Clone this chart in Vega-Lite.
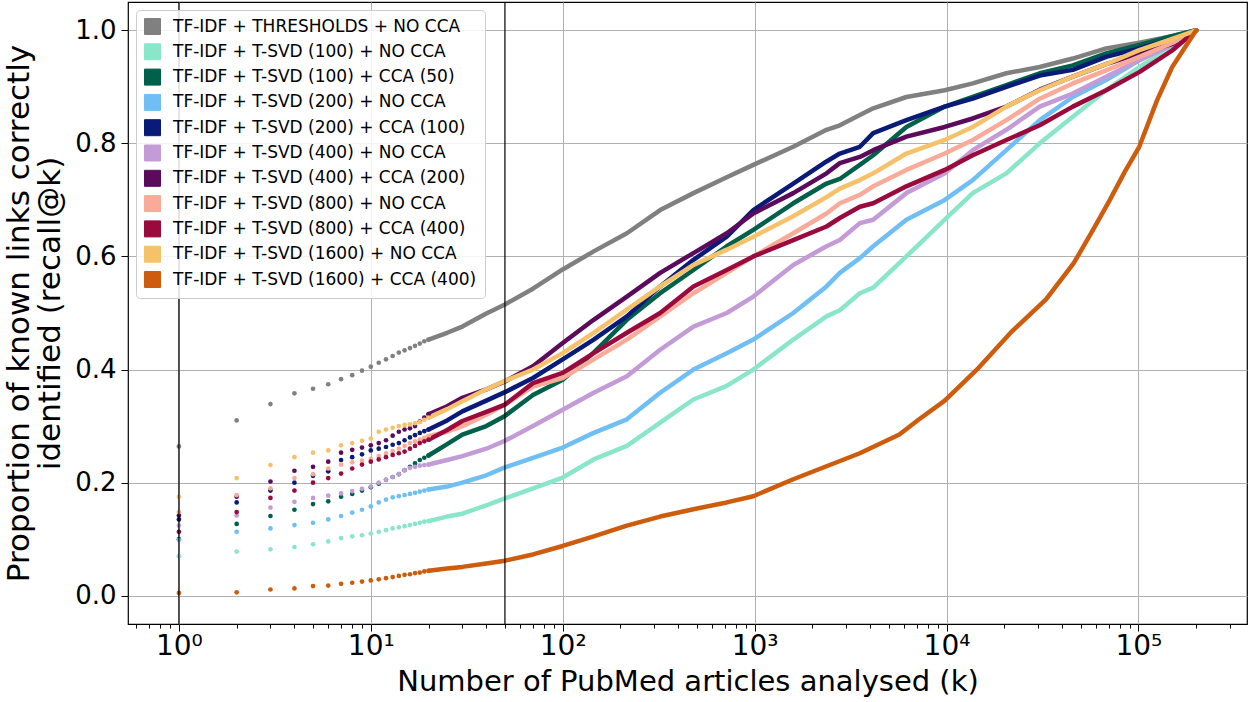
{
  "$schema": "https://vega.github.io/schema/vega-lite/v6.json",
  "autosize": {"type": "none"},
  "padding": {"left": 128, "top": 2, "right": 3, "bottom": 78},
  "width": 1119,
  "height": 622,
  "background": "white",
  "config": {
    "view": {"stroke": "black", "strokeWidth": 1.2},
    "axis": {
      "domain": false, "grid": true, "gridColor": "#b0b0b0", "gridWidth": 1,
      "tickColor": "black", "tickWidth": 1, "labelColor": "black", "titleColor": "black",
      "labelFont": "DejaVu Sans", "titleFont": "DejaVu Sans", "titleFontWeight": "normal",
      "labelFontSize": 26
    },
    "legend": {
      "title": null, "orient": "none", "legendX": 8, "legendY": 8,
      "fillColor": "rgba(255,255,255,0.85)", "strokeColor": "#cccccc", "cornerRadius": 4, "padding": 8,
      "symbolType": "square", "symbolSize": 256, "symbolStrokeColor": "black", "symbolStrokeWidth": 1, "symbolOpacity": 1,
      "labelFont": "DejaVu Sans", "labelFontSize": 17, "labelColor": "black", "labelLimit": 0, "labelOffset": 12,
      "rowPadding": 4.3
    }
  },
  "datasets": {
    "names": [
      {"c": "A", "s": "TF-IDF + THRESHOLDS + NO CCA"},
      {"c": "B", "s": "TF-IDF + T-SVD (100) + NO CCA"},
      {"c": "C", "s": "TF-IDF + T-SVD (100) + CCA (50)"},
      {"c": "D", "s": "TF-IDF + T-SVD (200) + NO CCA"},
      {"c": "E", "s": "TF-IDF + T-SVD (200) + CCA (100)"},
      {"c": "F", "s": "TF-IDF + T-SVD (400) + NO CCA"},
      {"c": "G", "s": "TF-IDF + T-SVD (400) + CCA (200)"},
      {"c": "H", "s": "TF-IDF + T-SVD (800) + NO CCA"},
      {"c": "I", "s": "TF-IDF + T-SVD (800) + CCA (400)"},
      {"c": "J", "s": "TF-IDF + T-SVD (1600) + NO CCA"},
      {"c": "K", "s": "TF-IDF + T-SVD (1600) + CCA (400)"}
    ],
    "vlines": [{"k": 1}, {"k": 50}],
    "curves": [
      {"c":"A","k":1,"r":0.264},{"c":"A","k":2,"r":0.310},{"c":"A","k":3,"r":0.339},{"c":"A","k":4,"r":0.358},{"c":"A","k":5,"r":0.366},{"c":"A","k":6,"r":0.374},{"c":"A","k":7,"r":0.383},{"c":"A","k":8,"r":0.390},{"c":"A","k":9,"r":0.398},{"c":"A","k":10,"r":0.405},{"c":"A","k":11,"r":0.412},{"c":"A","k":12,"r":0.418},{"c":"A","k":13,"r":0.424},{"c":"A","k":14,"r":0.430},{"c":"A","k":15,"r":0.434},{"c":"A","k":16,"r":0.438},{"c":"A","k":17,"r":0.442},{"c":"A","k":18,"r":0.446},{"c":"A","k":19,"r":0.450},
      {"c":"A","k":20,"r":0.453},{"c":"A","k":25,"r":0.465},{"c":"A","k":30,"r":0.476},{"c":"A","k":40,"r":0.499},{"c":"A","k":50,"r":0.515},{"c":"A","k":70,"r":0.543},{"c":"A","k":100,"r":0.577},{"c":"A","k":145,"r":0.609},{"c":"A","k":216,"r":0.641},{"c":"A","k":322,"r":0.682},{"c":"A","k":480,"r":0.712},{"c":"A","k":716,"r":0.740},{"c":"A","k":985,"r":0.762},{"c":"A","k":1590,"r":0.794},{"c":"A","k":2370,"r":0.824},{"c":"A","k":2780,"r":0.832},{"c":"A","k":3535,"r":0.850},{"c":"A","k":4150,"r":0.862},{"c":"A","k":6180,"r":0.882},{"c":"A","k":9790,"r":0.894},{"c":"A","k":13700,"r":0.906},{"c":"A","k":20500,"r":0.924},{"c":"A","k":30600,"r":0.935},{"c":"A","k":45500,"r":0.950},{"c":"A","k":67900,"r":0.968},{"c":"A","k":101000,"r":0.978},{"c":"A","k":151000,"r":0.990},{"c":"A","k":200000,"r":1.0},

      {"c":"B","k":1,"r":0.070},{"c":"B","k":2,"r":0.078},{"c":"B","k":3,"r":0.082},{"c":"B","k":4,"r":0.086},{"c":"B","k":5,"r":0.091},{"c":"B","k":6,"r":0.096},{"c":"B","k":7,"r":0.102},{"c":"B","k":8,"r":0.105},{"c":"B","k":9,"r":0.107},{"c":"B","k":10,"r":0.110},{"c":"B","k":11,"r":0.113},{"c":"B","k":12,"r":0.116},{"c":"B","k":13,"r":0.119},{"c":"B","k":14,"r":0.121},{"c":"B","k":15,"r":0.123},{"c":"B","k":16,"r":0.125},{"c":"B","k":17,"r":0.127},{"c":"B","k":18,"r":0.129},{"c":"B","k":19,"r":0.131},
      {"c":"B","k":20,"r":0.132},{"c":"B","k":25,"r":0.140},{"c":"B","k":30,"r":0.145},{"c":"B","k":40,"r":0.160},{"c":"B","k":50,"r":0.172},{"c":"B","k":70,"r":0.190},{"c":"B","k":100,"r":0.209},{"c":"B","k":145,"r":0.241},{"c":"B","k":216,"r":0.265},{"c":"B","k":322,"r":0.306},{"c":"B","k":480,"r":0.347},{"c":"B","k":716,"r":0.371},{"c":"B","k":985,"r":0.400},{"c":"B","k":1590,"r":0.453},{"c":"B","k":2370,"r":0.494},{"c":"B","k":2780,"r":0.505},{"c":"B","k":3535,"r":0.535},{"c":"B","k":4150,"r":0.545},{"c":"B","k":6180,"r":0.600},{"c":"B","k":9790,"r":0.665},{"c":"B","k":13700,"r":0.712},{"c":"B","k":20500,"r":0.747},{"c":"B","k":30600,"r":0.800},{"c":"B","k":45500,"r":0.847},{"c":"B","k":67900,"r":0.894},{"c":"B","k":101000,"r":0.935},{"c":"B","k":151000,"r":0.970},{"c":"B","k":200000,"r":1.0},

      {"c":"C","k":1,"r":0.100},{"c":"C","k":2,"r":0.127},{"c":"C","k":3,"r":0.141},{"c":"C","k":4,"r":0.152},{"c":"C","k":5,"r":0.162},{"c":"C","k":6,"r":0.167},{"c":"C","k":7,"r":0.175},{"c":"C","k":8,"r":0.180},{"c":"C","k":9,"r":0.186},{"c":"C","k":10,"r":0.192},{"c":"C","k":11,"r":0.198},{"c":"C","k":12,"r":0.205},{"c":"C","k":13,"r":0.210},{"c":"C","k":14,"r":0.215},{"c":"C","k":15,"r":0.222},{"c":"C","k":16,"r":0.228},{"c":"C","k":17,"r":0.234},{"c":"C","k":18,"r":0.240},{"c":"C","k":19,"r":0.244},
      {"c":"C","k":20,"r":0.248},{"c":"C","k":25,"r":0.268},{"c":"C","k":30,"r":0.285},{"c":"C","k":40,"r":0.300},{"c":"C","k":50,"r":0.318},{"c":"C","k":70,"r":0.355},{"c":"C","k":100,"r":0.382},{"c":"C","k":145,"r":0.430},{"c":"C","k":216,"r":0.488},{"c":"C","k":322,"r":0.535},{"c":"C","k":480,"r":0.576},{"c":"C","k":716,"r":0.618},{"c":"C","k":985,"r":0.647},{"c":"C","k":1590,"r":0.694},{"c":"C","k":2370,"r":0.729},{"c":"C","k":2780,"r":0.737},{"c":"C","k":3535,"r":0.762},{"c":"C","k":4150,"r":0.779},{"c":"C","k":6180,"r":0.829},{"c":"C","k":9790,"r":0.865},{"c":"C","k":13700,"r":0.882},{"c":"C","k":20500,"r":0.903},{"c":"C","k":30600,"r":0.924},{"c":"C","k":45500,"r":0.938},{"c":"C","k":67900,"r":0.959},{"c":"C","k":101000,"r":0.974},{"c":"C","k":151000,"r":0.990},{"c":"C","k":200000,"r":1.0},

      {"c":"D","k":1,"r":0.099},{"c":"D","k":2,"r":0.113},{"c":"D","k":3,"r":0.119},{"c":"D","k":4,"r":0.125},{"c":"D","k":5,"r":0.129},{"c":"D","k":6,"r":0.135},{"c":"D","k":7,"r":0.141},{"c":"D","k":8,"r":0.147},{"c":"D","k":9,"r":0.152},{"c":"D","k":10,"r":0.158},{"c":"D","k":11,"r":0.165},{"c":"D","k":12,"r":0.170},{"c":"D","k":13,"r":0.174},{"c":"D","k":14,"r":0.176},{"c":"D","k":15,"r":0.178},{"c":"D","k":16,"r":0.180},{"c":"D","k":17,"r":0.182},{"c":"D","k":18,"r":0.184},{"c":"D","k":19,"r":0.186},
      {"c":"D","k":20,"r":0.188},{"c":"D","k":25,"r":0.193},{"c":"D","k":30,"r":0.200},{"c":"D","k":40,"r":0.213},{"c":"D","k":50,"r":0.227},{"c":"D","k":70,"r":0.244},{"c":"D","k":100,"r":0.262},{"c":"D","k":145,"r":0.288},{"c":"D","k":216,"r":0.312},{"c":"D","k":322,"r":0.359},{"c":"D","k":480,"r":0.400},{"c":"D","k":716,"r":0.429},{"c":"D","k":985,"r":0.453},{"c":"D","k":1590,"r":0.500},{"c":"D","k":2370,"r":0.547},{"c":"D","k":2780,"r":0.571},{"c":"D","k":3535,"r":0.597},{"c":"D","k":4150,"r":0.618},{"c":"D","k":6180,"r":0.665},{"c":"D","k":9790,"r":0.700},{"c":"D","k":13700,"r":0.735},{"c":"D","k":20500,"r":0.788},{"c":"D","k":30600,"r":0.841},{"c":"D","k":45500,"r":0.882},{"c":"D","k":67900,"r":0.912},{"c":"D","k":101000,"r":0.947},{"c":"D","k":151000,"r":0.975},{"c":"D","k":200000,"r":1.0},

      {"c":"E","k":1,"r":0.135},{"c":"E","k":2,"r":0.165},{"c":"E","k":3,"r":0.186},{"c":"E","k":4,"r":0.200},{"c":"E","k":5,"r":0.212},{"c":"E","k":6,"r":0.220},{"c":"E","k":7,"r":0.240},{"c":"E","k":8,"r":0.245},{"c":"E","k":9,"r":0.250},{"c":"E","k":10,"r":0.257},{"c":"E","k":11,"r":0.260},{"c":"E","k":12,"r":0.263},{"c":"E","k":13,"r":0.267},{"c":"E","k":14,"r":0.270},{"c":"E","k":15,"r":0.275},{"c":"E","k":16,"r":0.280},{"c":"E","k":17,"r":0.284},{"c":"E","k":18,"r":0.288},{"c":"E","k":19,"r":0.291},
      {"c":"E","k":20,"r":0.294},{"c":"E","k":25,"r":0.310},{"c":"E","k":30,"r":0.326},{"c":"E","k":40,"r":0.345},{"c":"E","k":50,"r":0.360},{"c":"E","k":70,"r":0.385},{"c":"E","k":100,"r":0.418},{"c":"E","k":145,"r":0.453},{"c":"E","k":216,"r":0.494},{"c":"E","k":322,"r":0.547},{"c":"E","k":480,"r":0.594},{"c":"E","k":716,"r":0.635},{"c":"E","k":985,"r":0.682},{"c":"E","k":1590,"r":0.729},{"c":"E","k":2370,"r":0.768},{"c":"E","k":2780,"r":0.782},{"c":"E","k":3535,"r":0.794},{"c":"E","k":4150,"r":0.818},{"c":"E","k":6180,"r":0.841},{"c":"E","k":9790,"r":0.865},{"c":"E","k":13700,"r":0.879},{"c":"E","k":20500,"r":0.900},{"c":"E","k":30600,"r":0.920},{"c":"E","k":45500,"r":0.930},{"c":"E","k":67900,"r":0.953},{"c":"E","k":101000,"r":0.968},{"c":"E","k":151000,"r":0.985},{"c":"E","k":200000,"r":1.0},

      {"c":"F","k":1,"r":0.124},{"c":"F","k":2,"r":0.142},{"c":"F","k":3,"r":0.156},{"c":"F","k":4,"r":0.166},{"c":"F","k":5,"r":0.173},{"c":"F","k":6,"r":0.177},{"c":"F","k":7,"r":0.181},{"c":"F","k":8,"r":0.185},{"c":"F","k":9,"r":0.189},{"c":"F","k":10,"r":0.193},{"c":"F","k":11,"r":0.200},{"c":"F","k":12,"r":0.205},{"c":"F","k":13,"r":0.210},{"c":"F","k":14,"r":0.215},{"c":"F","k":15,"r":0.222},{"c":"F","k":16,"r":0.226},{"c":"F","k":17,"r":0.228},{"c":"F","k":18,"r":0.230},{"c":"F","k":19,"r":0.231},
      {"c":"F","k":20,"r":0.232},{"c":"F","k":25,"r":0.240},{"c":"F","k":30,"r":0.247},{"c":"F","k":40,"r":0.260},{"c":"F","k":50,"r":0.274},{"c":"F","k":70,"r":0.300},{"c":"F","k":100,"r":0.329},{"c":"F","k":145,"r":0.359},{"c":"F","k":216,"r":0.388},{"c":"F","k":322,"r":0.435},{"c":"F","k":480,"r":0.476},{"c":"F","k":716,"r":0.500},{"c":"F","k":985,"r":0.529},{"c":"F","k":1590,"r":0.585},{"c":"F","k":2370,"r":0.618},{"c":"F","k":2780,"r":0.629},{"c":"F","k":3535,"r":0.659},{"c":"F","k":4150,"r":0.665},{"c":"F","k":6180,"r":0.712},{"c":"F","k":9790,"r":0.747},{"c":"F","k":13700,"r":0.788},{"c":"F","k":20500,"r":0.824},{"c":"F","k":30600,"r":0.865},{"c":"F","k":45500,"r":0.888},{"c":"F","k":67900,"r":0.918},{"c":"F","k":101000,"r":0.947},{"c":"F","k":151000,"r":0.975},{"c":"F","k":200000,"r":1.0},

      {"c":"G","k":1,"r":0.142},{"c":"G","k":2,"r":0.175},{"c":"G","k":3,"r":0.202},{"c":"G","k":4,"r":0.221},{"c":"G","k":5,"r":0.228},{"c":"G","k":6,"r":0.237},{"c":"G","k":7,"r":0.253},{"c":"G","k":8,"r":0.258},{"c":"G","k":9,"r":0.262},{"c":"G","k":10,"r":0.266},{"c":"G","k":11,"r":0.270},{"c":"G","k":12,"r":0.275},{"c":"G","k":13,"r":0.283},{"c":"G","k":14,"r":0.290},{"c":"G","k":15,"r":0.294},{"c":"G","k":16,"r":0.296},{"c":"G","k":17,"r":0.300},{"c":"G","k":18,"r":0.308},{"c":"G","k":19,"r":0.315},
      {"c":"G","k":20,"r":0.321},{"c":"G","k":25,"r":0.335},{"c":"G","k":30,"r":0.350},{"c":"G","k":40,"r":0.365},{"c":"G","k":50,"r":0.379},{"c":"G","k":70,"r":0.406},{"c":"G","k":100,"r":0.447},{"c":"G","k":145,"r":0.488},{"c":"G","k":216,"r":0.529},{"c":"G","k":322,"r":0.571},{"c":"G","k":480,"r":0.606},{"c":"G","k":716,"r":0.641},{"c":"G","k":985,"r":0.676},{"c":"G","k":1590,"r":0.712},{"c":"G","k":2370,"r":0.747},{"c":"G","k":2780,"r":0.765},{"c":"G","k":3535,"r":0.776},{"c":"G","k":4150,"r":0.788},{"c":"G","k":6180,"r":0.812},{"c":"G","k":9790,"r":0.829},{"c":"G","k":13700,"r":0.844},{"c":"G","k":20500,"r":0.865},{"c":"G","k":30600,"r":0.895},{"c":"G","k":45500,"r":0.918},{"c":"G","k":67900,"r":0.940},{"c":"G","k":101000,"r":0.959},{"c":"G","k":151000,"r":0.976},{"c":"G","k":200000,"r":1.0},

      {"c":"H","k":1,"r":0.148},{"c":"H","k":2,"r":0.178},{"c":"H","k":3,"r":0.190},{"c":"H","k":4,"r":0.208},{"c":"H","k":5,"r":0.215},{"c":"H","k":6,"r":0.225},{"c":"H","k":7,"r":0.232},{"c":"H","k":8,"r":0.236},{"c":"H","k":9,"r":0.239},{"c":"H","k":10,"r":0.242},{"c":"H","k":11,"r":0.247},{"c":"H","k":12,"r":0.252},{"c":"H","k":13,"r":0.256},{"c":"H","k":14,"r":0.260},{"c":"H","k":15,"r":0.265},{"c":"H","k":16,"r":0.270},{"c":"H","k":17,"r":0.273},{"c":"H","k":18,"r":0.276},{"c":"H","k":19,"r":0.279},
      {"c":"H","k":20,"r":0.282},{"c":"H","k":25,"r":0.290},{"c":"H","k":30,"r":0.300},{"c":"H","k":40,"r":0.320},{"c":"H","k":50,"r":0.338},{"c":"H","k":70,"r":0.370},{"c":"H","k":100,"r":0.385},{"c":"H","k":145,"r":0.418},{"c":"H","k":216,"r":0.453},{"c":"H","k":322,"r":0.494},{"c":"H","k":480,"r":0.535},{"c":"H","k":716,"r":0.571},{"c":"H","k":985,"r":0.600},{"c":"H","k":1590,"r":0.641},{"c":"H","k":2370,"r":0.676},{"c":"H","k":2780,"r":0.694},{"c":"H","k":3535,"r":0.709},{"c":"H","k":4150,"r":0.724},{"c":"H","k":6180,"r":0.753},{"c":"H","k":9790,"r":0.782},{"c":"H","k":13700,"r":0.806},{"c":"H","k":20500,"r":0.841},{"c":"H","k":30600,"r":0.879},{"c":"H","k":45500,"r":0.906},{"c":"H","k":67900,"r":0.929},{"c":"H","k":101000,"r":0.953},{"c":"H","k":151000,"r":0.978},{"c":"H","k":200000,"r":1.0},

      {"c":"I","k":1,"r":0.113},{"c":"I","k":2,"r":0.148},{"c":"I","k":3,"r":0.173},{"c":"I","k":4,"r":0.186},{"c":"I","k":5,"r":0.200},{"c":"I","k":6,"r":0.208},{"c":"I","k":7,"r":0.216},{"c":"I","k":8,"r":0.225},{"c":"I","k":9,"r":0.232},{"c":"I","k":10,"r":0.237},{"c":"I","k":11,"r":0.241},{"c":"I","k":12,"r":0.245},{"c":"I","k":13,"r":0.249},{"c":"I","k":14,"r":0.252},{"c":"I","k":15,"r":0.255},{"c":"I","k":16,"r":0.260},{"c":"I","k":17,"r":0.265},{"c":"I","k":18,"r":0.270},{"c":"I","k":19,"r":0.273},
      {"c":"I","k":20,"r":0.276},{"c":"I","k":25,"r":0.293},{"c":"I","k":30,"r":0.309},{"c":"I","k":40,"r":0.325},{"c":"I","k":50,"r":0.338},{"c":"I","k":70,"r":0.376},{"c":"I","k":100,"r":0.394},{"c":"I","k":145,"r":0.429},{"c":"I","k":216,"r":0.465},{"c":"I","k":322,"r":0.500},{"c":"I","k":480,"r":0.547},{"c":"I","k":716,"r":0.576},{"c":"I","k":985,"r":0.600},{"c":"I","k":1590,"r":0.629},{"c":"I","k":2370,"r":0.653},{"c":"I","k":2780,"r":0.668},{"c":"I","k":3535,"r":0.688},{"c":"I","k":4150,"r":0.694},{"c":"I","k":6180,"r":0.724},{"c":"I","k":9790,"r":0.753},{"c":"I","k":13700,"r":0.779},{"c":"I","k":20500,"r":0.806},{"c":"I","k":30600,"r":0.832},{"c":"I","k":45500,"r":0.865},{"c":"I","k":67900,"r":0.894},{"c":"I","k":101000,"r":0.926},{"c":"I","k":151000,"r":0.965},{"c":"I","k":200000,"r":1.0},

      {"c":"J","k":1,"r":0.175},{"c":"J","k":2,"r":0.208},{"c":"J","k":3,"r":0.231},{"c":"J","k":4,"r":0.245},{"c":"J","k":5,"r":0.253},{"c":"J","k":6,"r":0.257},{"c":"J","k":7,"r":0.266},{"c":"J","k":8,"r":0.270},{"c":"J","k":9,"r":0.274},{"c":"J","k":10,"r":0.278},{"c":"J","k":11,"r":0.290},{"c":"J","k":12,"r":0.294},{"c":"J","k":13,"r":0.297},{"c":"J","k":14,"r":0.300},{"c":"J","k":15,"r":0.302},{"c":"J","k":16,"r":0.303},{"c":"J","k":17,"r":0.305},{"c":"J","k":18,"r":0.307},{"c":"J","k":19,"r":0.311},
      {"c":"J","k":20,"r":0.315},{"c":"J","k":25,"r":0.330},{"c":"J","k":30,"r":0.344},{"c":"J","k":40,"r":0.365},{"c":"J","k":50,"r":0.380},{"c":"J","k":70,"r":0.400},{"c":"J","k":100,"r":0.429},{"c":"J","k":145,"r":0.465},{"c":"J","k":216,"r":0.506},{"c":"J","k":322,"r":0.547},{"c":"J","k":480,"r":0.585},{"c":"J","k":716,"r":0.612},{"c":"J","k":985,"r":0.635},{"c":"J","k":1590,"r":0.671},{"c":"J","k":2370,"r":0.705},{"c":"J","k":2780,"r":0.720},{"c":"J","k":3535,"r":0.735},{"c":"J","k":4150,"r":0.747},{"c":"J","k":6180,"r":0.782},{"c":"J","k":9790,"r":0.806},{"c":"J","k":13700,"r":0.829},{"c":"J","k":20500,"r":0.865},{"c":"J","k":30600,"r":0.894},{"c":"J","k":45500,"r":0.918},{"c":"J","k":67900,"r":0.940},{"c":"J","k":101000,"r":0.965},{"c":"J","k":151000,"r":0.985},{"c":"J","k":200000,"r":1.0},

      {"c":"K","k":1,"r":0.005},{"c":"K","k":2,"r":0.006},{"c":"K","k":3,"r":0.011},{"c":"K","k":4,"r":0.013},{"c":"K","k":5,"r":0.017},{"c":"K","k":6,"r":0.018},{"c":"K","k":7,"r":0.021},{"c":"K","k":8,"r":0.023},{"c":"K","k":9,"r":0.025},{"c":"K","k":10,"r":0.027},{"c":"K","k":11,"r":0.029},{"c":"K","k":12,"r":0.031},{"c":"K","k":13,"r":0.033},{"c":"K","k":14,"r":0.035},{"c":"K","k":15,"r":0.037},{"c":"K","k":16,"r":0.038},{"c":"K","k":17,"r":0.040},{"c":"K","k":18,"r":0.041},{"c":"K","k":19,"r":0.043},
      {"c":"K","k":20,"r":0.044},{"c":"K","k":25,"r":0.048},{"c":"K","k":30,"r":0.051},{"c":"K","k":40,"r":0.057},{"c":"K","k":50,"r":0.062},{"c":"K","k":70,"r":0.073},{"c":"K","k":100,"r":0.088},{"c":"K","k":145,"r":0.105},{"c":"K","k":216,"r":0.124},{"c":"K","k":322,"r":0.140},{"c":"K","k":480,"r":0.153},{"c":"K","k":716,"r":0.165},{"c":"K","k":985,"r":0.176},{"c":"K","k":1590,"r":0.206},{"c":"K","k":2370,"r":0.229},{"c":"K","k":3535,"r":0.252},{"c":"K","k":5680,"r":0.285},{"c":"K","k":7200,"r":0.312},{"c":"K","k":9790,"r":0.345},{"c":"K","k":14700,"r":0.403},{"c":"K","k":22000,"r":0.468},{"c":"K","k":33000,"r":0.524},{"c":"K","k":46000,"r":0.588},{"c":"K","k":58000,"r":0.647},{"c":"K","k":71000,"r":0.700},{"c":"K","k":85000,"r":0.750},{"c":"K","k":101000,"r":0.794},{"c":"K","k":125000,"r":0.876},{"c":"K","k":150000,"r":0.935},{"c":"K","k":175000,"r":0.970},{"c":"K","k":200000,"r":1.0}
    ]
  },
  "layer": [
    {
      "data": {"name": "curves"},
      "transform": [
        {"lookup": "c", "from": {"data": {"name": "names"}, "key": "c", "fields": ["s"]}},
        {"filter": "datum.k >= 20"}
      ],
      "mark": {"type": "line", "strokeWidth": 4.5, "strokeCap": "round", "strokeJoin": "round"},
      "encoding": {
        "x": {"field": "k", "type": "quantitative", "scale": {"type": "log", "domain": [0.543, 368000], "nice": false},
          "axis": {
            "title": "Number of PubMed articles analysed (k)", "titleFontSize": 29, "titlePadding": 7,
            "values": [0.6,0.7,0.8,0.9,1,2,3,4,5,6,7,8,9,10,20,30,40,50,60,70,80,90,100,200,300,400,500,600,700,800,900,1000,2000,3000,4000,5000,6000,7000,8000,9000,10000,20000,30000,40000,50000,60000,70000,80000,90000,100000,200000,300000],
            "labelExpr": "datum.value == 1 ? '10⁰' : datum.value == 10 ? '10¹' : datum.value == 100 ? '10²' : datum.value == 1000 ? '10³' : datum.value == 10000 ? '10⁴' : datum.value == 100000 ? '10⁵' : ''",
            "labelOverlap": false, "labelFlush": false, "labelPadding": 1, "labelFontSize": 28,
            "tickSize": {"condition": {"test": "indexof([1,10,100,1000,10000,100000], datum.value) >= 0", "value": 7}, "value": 4},
            "gridOpacity": {"condition": {"test": "indexof([1,10,100,1000,10000,100000], datum.value) >= 0", "value": 1}, "value": 0}
          }},
        "y": {"field": "r", "type": "quantitative", "scale": {"domain": [-0.05, 1.05], "nice": false, "zero": false},
          "axis": {
            "title": ["Proportion of known links correctly", "identified (recall@k)"], "titleFontSize": 31, "titleLineHeight": 31, "titlePadding": 8,
            "values": [0, 0.2, 0.4, 0.6, 0.8, 1.0], "format": ".1f", "tickSize": 7, "labelPadding": 5
          }},
        "color": {"field": "s", "type": "nominal",
          "legend": {"symbolStrokeColor": "black", "symbolStrokeWidth": 1, "symbolType": "square"},
          "scale": {
            "domain": ["TF-IDF + THRESHOLDS + NO CCA","TF-IDF + T-SVD (100) + NO CCA","TF-IDF + T-SVD (100) + CCA (50)","TF-IDF + T-SVD (200) + NO CCA","TF-IDF + T-SVD (200) + CCA (100)","TF-IDF + T-SVD (400) + NO CCA","TF-IDF + T-SVD (400) + CCA (200)","TF-IDF + T-SVD (800) + NO CCA","TF-IDF + T-SVD (800) + CCA (400)","TF-IDF + T-SVD (1600) + NO CCA","TF-IDF + T-SVD (1600) + CCA (400)"],
            "range": ["#808080","#8ae6c8","#00604a","#6fbff5","#0a1a78","#c39bd6","#5b0a5c","#f9aa98","#9a0a3c","#f5c26b","#cd5c0c"]
          }},
        "order": {"field": "k", "type": "quantitative"}
      }
    },
    {
      "data": {"name": "curves"},
      "transform": [
        {"lookup": "c", "from": {"data": {"name": "names"}, "key": "c", "fields": ["s"]}},
        {"filter": "datum.k <= 20"}
      ],
      "mark": {"type": "circle", "size": 22, "opacity": 1},
      "encoding": {
        "x": {"field": "k", "type": "quantitative"},
        "y": {"field": "r", "type": "quantitative"},
        "color": {"field": "s", "type": "nominal"}
      }
    },
    {
      "data": {"name": "vlines"},
      "mark": {"type": "rule", "color": "black", "strokeWidth": 1.2},
      "encoding": {"x": {"field": "k", "type": "quantitative"}}
    }
  ]
}
